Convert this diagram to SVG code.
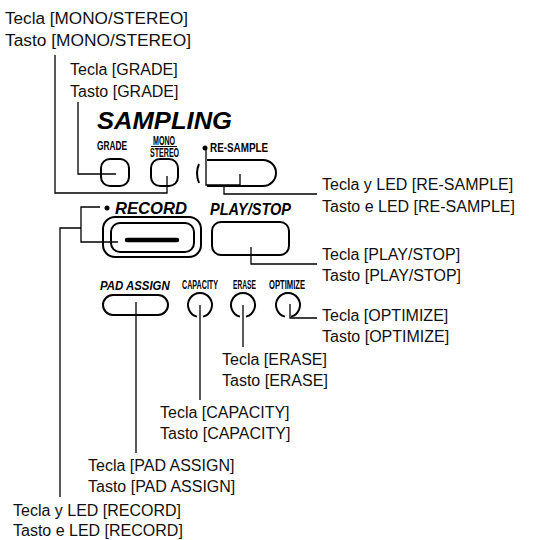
<svg xmlns="http://www.w3.org/2000/svg" width="536" height="540" viewBox="0 0 536 540">
<style>
.lbl{font-family:"Liberation Sans",Arial,sans-serif;font-size:16px;fill:#111}
.pnl{font-family:"Liberation Sans",Arial,sans-serif;font-weight:bold;font-style:italic;fill:#000}
.cnd{font-family:"Liberation Sans",Arial,sans-serif;font-weight:bold;font-size:12px;fill:#000}
.ldr{fill:none;stroke:#000;stroke-width:1.3}
.btn{fill:none;stroke:#000;stroke-width:2}
</style>
<rect width="536" height="540" fill="#fff"/>
<g id="panel">
  <text class="pnl" x="97" y="128.5" font-size="24" textLength="135" lengthAdjust="spacingAndGlyphs">SAMPLING</text>
</g>
<g id="grade">
  <text class="cnd" transform="translate(97,150) scale(0.6,1)" x="0" y="0" textLength="50" lengthAdjust="spacingAndGlyphs">GRADE</text>
  <rect class="btn" x="101" y="159" width="28" height="27" rx="9"/>
</g>
<g id="monostereo">
  <text class="cnd" transform="translate(153,144.5) scale(0.65,1)" x="0" y="0" font-size="9" textLength="34" lengthAdjust="spacingAndGlyphs">MONO</text>
  <line x1="151" y1="146.5" x2="177" y2="146.5" stroke="#000" stroke-width="1"/>
  <text class="cnd" transform="translate(150,156.5) scale(0.62,1)" x="0" y="0" font-size="10" textLength="47" lengthAdjust="spacingAndGlyphs">STEREO</text>
  <rect class="btn" x="151" y="159" width="27" height="27" rx="9"/>
</g>
<g id="resample">
  <circle cx="205" cy="148" r="2.5" fill="#000"/>
  <text class="cnd" transform="translate(210,152) scale(0.6,1)" x="0" y="0" textLength="97" lengthAdjust="spacingAndGlyphs">RE-SAMPLE</text>
  <path class="btn" d="M199,164 Q195,173 199,183"/>
  <path class="btn" d="M207,160 H263 A13,13 0 0 1 263,186 H207"/>
</g>
<g id="record">
  <circle cx="107" cy="208" r="2.5" fill="#000"/>
  <text class="pnl" x="115" y="214" font-size="17" textLength="72" lengthAdjust="spacingAndGlyphs">RECORD</text>
  <rect class="btn" x="103" y="217" width="98" height="40" rx="12"/>
  <rect class="btn" x="111" y="223" width="83" height="29" rx="9"/>
  <line x1="127" y1="240" x2="177" y2="240" stroke="#000" stroke-width="4.5" stroke-linecap="round"/>
</g>
<g id="playstop">
  <text class="pnl" x="210" y="215" font-size="17" textLength="81" lengthAdjust="spacingAndGlyphs">PLAY/STOP</text>
  <rect class="btn" x="212" y="222" width="77" height="33" rx="9"/>
</g>
<g id="padassign">
  <text class="pnl" transform="translate(100,290) scale(0.85,1)" x="0" y="0" font-size="13.5" textLength="82" lengthAdjust="spacingAndGlyphs">PAD ASSIGN</text>
  <rect class="btn" x="103" y="295" width="65" height="20" rx="10"/>
</g>
<g id="capacity">
  <text class="cnd" transform="translate(182,289) scale(0.6,1)" x="0" y="0" textLength="60" lengthAdjust="spacingAndGlyphs">CAPACITY</text>
  <path class="btn" d="M196.9,316.6 A12,12 0 1 1 203.1,316.6"/>
</g>
<g id="erase">
  <text class="cnd" transform="translate(233,289) scale(0.6,1)" x="0" y="0" textLength="38" lengthAdjust="spacingAndGlyphs">ERASE</text>
  <path class="btn" d="M239.9,316.6 A12,12 0 1 1 246.1,316.6"/>
</g>
<g id="optimize">
  <text class="cnd" transform="translate(269,289) scale(0.6,1)" x="0" y="0" textLength="60" lengthAdjust="spacingAndGlyphs">OPTIMIZE</text>
  <path class="btn" d="M284.9,316.6 A12,12 0 1 1 291.1,316.6"/>
</g>
<g id="connectors">
  <path class="ldr" d="M55,55 V193 H167 V176"/>
  <path class="ldr" d="M78,102 V174 H116"/>
  <path class="ldr" d="M206,149 V185 H240 V174"/>
  <path class="ldr" d="M224,185 V194 H317"/>
  <path class="ldr" d="M100,207 H81 V242 H118"/>
  <path class="ldr" d="M81,228 H60 V497"/>
  <path class="ldr" d="M251,247 V264 H317"/>
  <path class="ldr" d="M290,304 V318 H317"/>
  <path class="ldr" d="M243,305 V347"/>
  <path class="ldr" d="M200,305 V400"/>
  <path class="ldr" d="M136,302 V453"/>
</g>
<g id="labels">
  <text class="lbl" x="5" y="24" textLength="183" lengthAdjust="spacingAndGlyphs">Tecla [MONO/STEREO]</text>
  <text class="lbl" x="5" y="46" textLength="186" lengthAdjust="spacingAndGlyphs">Tasto [MONO/STEREO]</text>
  <text class="lbl" x="70" y="75">Tecla [GRADE]</text>
  <text class="lbl" x="70" y="97">Tasto [GRADE]</text>
  <text class="lbl" x="322" y="190">Tecla y LED [RE-SAMPLE]</text>
  <text class="lbl" x="322" y="212">Tasto e LED [RE-SAMPLE]</text>
  <text class="lbl" x="322" y="260">Tecla [PLAY/STOP]</text>
  <text class="lbl" x="322" y="281">Tasto [PLAY/STOP]</text>
  <text class="lbl" x="322" y="321">Tecla [OPTIMIZE]</text>
  <text class="lbl" x="322" y="342">Tasto [OPTIMIZE]</text>
  <text class="lbl" x="222" y="365">Tecla [ERASE]</text>
  <text class="lbl" x="222" y="386">Tasto [ERASE]</text>
  <text class="lbl" x="160" y="418">Tecla [CAPACITY]</text>
  <text class="lbl" x="160" y="439">Tasto [CAPACITY]</text>
  <text class="lbl" x="88" y="471">Tecla [PAD ASSIGN]</text>
  <text class="lbl" x="88" y="492">Tasto [PAD ASSIGN]</text>
  <text class="lbl" x="13" y="516">Tecla y LED [RECORD]</text>
  <text class="lbl" x="13" y="536">Tasto e LED [RECORD]</text>
</g>
</svg>
